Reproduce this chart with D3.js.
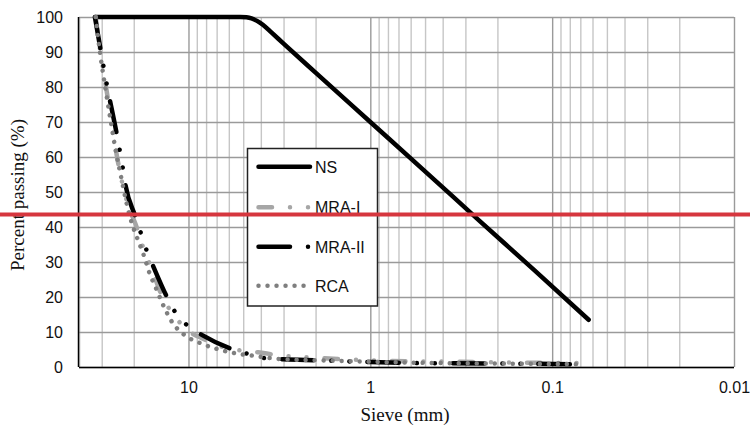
<!DOCTYPE html>
<html>
<head>
<meta charset="utf-8">
<script src="https://cdn.jsdelivr.net/npm/d3@7"></script>
<style>
  html, body { margin: 0; padding: 0; background: #fff; }
  svg { display: block; }
</style>
</head>
<body>
<svg id="chart" width="750" height="429"></svg>
<script>
// ---- data (sieve size in mm, percent passing) ----
const nsSize   = [32.4, 16, 8, 5.2, 4.8, 4.5, 4.2, 3.9, 3.5, 3, 2, 1, 0.5, 0.25, 0.125, 0.063];
const nsPass   = [100, 100, 100, 100, 99.9, 99.6, 98.9, 97.8, 95.6, 92.4, 84.1, 70.0, 55.9, 41.7, 27.6, 13.5];

const mra1Size = [32.4, 30.5, 28.4, 26.5, 24.7, 23.0, 21.4, 19.6, 17.7, 15.8, 13.9, 12.1, 10.1, 8.27, 6.26, 4.13, 3.01, 2.14, 1.13, 0.60, 0.32, 0.17, 0.070];
const mra1Pass = [100, 90, 80, 70, 60, 52, 46, 41, 34, 27.5, 20, 15, 10.5, 8, 5.5, 4.2, 3.2, 2.7, 2.0, 1.6, 1.5, 1.3, 1.1];

const mra2Size = [32.7, 30.5, 28.2, 24.9, 23.0, 22.2, 19.6, 18.2, 16.9, 15.6, 13.1, 11.8, 10.1, 8.4, 5.75, 4.67, 3.77, 3.01, 1.95, 1.0, 0.53, 0.22, 0.075];
const mra2Pass = [100, 91, 81, 67, 57, 52, 43, 38, 33, 28.7, 19.9, 15.6, 11.8, 9.1, 5.1, 3.7, 2.5, 2.2, 1.9, 1.4, 1.1, 1.0, 0.8];

const rcaSize  = [32.4, 30.7, 28.7, 26.6, 25.1, 23.4, 21.9, 20.6, 19.1, 17.6, 16.4, 15.0, 13.7, 12.3, 10.5, 8.59, 6.90, 5.52, 4.40, 3.01, 1.95, 1.0, 0.531, 0.219, 0.0676];
const rcaPass  = [100, 90, 80, 69.4, 61.7, 54, 46.8, 41.5, 36.7, 31.9, 26.9, 22.2, 17.4, 12.8, 9.1, 6.8, 5.1, 3.9, 3.2, 2.2, 1.9, 1.5, 1.2, 1.0, 0.8];

const seriesNames = ["NS", "MRA-I", "MRA-II", "RCA"];
const xTickValues = [10, 1, 0.1, 0.01];
const xTickLabels = ["10", "1", "0.1", "0.01"];
const yTickValues = [0, 10, 20, 30, 40, 50, 60, 70, 80, 90, 100];

// ---- styles ----
const W = 4.5;
const styles = {
  "NS":     { color: "#000000", dash: null },
  "MRA-I":  { color: "#a6a6a6", dash: "13.5,18,0.01,18,0.01,18" },
  "MRA-II": { color: "#000000", dash: "31.5,18,0.01,18,0.01,18" },
  "RCA":    { color: "#7f7f7f", dash: "0.01,9" }
};

const series = [
  { name: "NS",     pts: d3.zip(nsSize, nsPass) },
  { name: "MRA-I",  pts: d3.zip(mra1Size, mra1Pass) },
  { name: "MRA-II", pts: d3.zip(mra2Size, mra2Pass) },
  { name: "RCA",    pts: d3.zip(rcaSize, rcaPass) }
];

const svg = d3.select("#chart");
const L = 79, R = 734, T = 17, B = 367;

const x = d3.scaleLog().domain([40, 0.01]).range([L, R]);
const y = d3.scaleLinear().domain([0, 100]).range([B, T]);

// minor vertical gridlines
const minorVals = [];
[0.01, 0.1, 1, 10].forEach(d => { for (let k = 2; k <= 9; k++) { const v = k * d; if (v <= 40) minorVals.push(v); } });
minorVals.push(40);

const grid = svg.append("g");
grid.append("g").attr("transform", `translate(0,${B})`)
  .call(d3.axisBottom(x).tickValues(minorVals).tickSize(-(B - T)).tickFormat(""))
  .call(g => g.select(".domain").remove())
  .call(g => g.selectAll("line").attr("stroke", "#c6c6c6").attr("stroke-width", 1.4));
grid.append("g").attr("transform", `translate(0,${B})`)
  .call(d3.axisBottom(x).tickValues(xTickValues).tickSize(-(B - T)).tickFormat(""))
  .call(g => g.select(".domain").remove())
  .call(g => g.selectAll("line").attr("stroke", "#9a9a9a").attr("stroke-width", 1.4));
grid.append("g").attr("transform", `translate(${L},0)`)
  .call(d3.axisLeft(y).tickValues(yTickValues).tickSize(-(R - L)).tickFormat(""))
  .call(g => g.select(".domain").remove())
  .call(g => g.selectAll("line").attr("stroke", "#9a9a9a").attr("stroke-width", 1.4));

// axes lines and labels
svg.append("g").attr("transform", `translate(0,${B})`)
  .call(d3.axisBottom(x).tickValues(xTickValues).tickSize(0).tickPadding(15)
        .tickFormat((d, i) => xTickLabels[i]))
  .call(g => g.select(".domain").attr("stroke", "#000").attr("stroke-width", 1.5).attr("d", `M${L},0.5H${R}`))
  .call(g => g.selectAll("text").attr("font-family", "Liberation Sans, Arial, sans-serif")
        .attr("font-size", 16).attr("fill", "#111"));
svg.append("g").attr("transform", `translate(${L},0)`)
  .call(d3.axisLeft(y).tickValues(yTickValues).tickSize(0).tickPadding(16))
  .call(g => g.select(".domain").attr("stroke", "#000").attr("stroke-width", 1.5).attr("d", `M-0.5,${T}V${B}`))
  .call(g => g.selectAll("text").attr("font-family", "Liberation Sans, Arial, sans-serif")
        .attr("font-size", 16).attr("fill", "#111"));

// axis titles
svg.append("text").attr("x", 405).attr("y", 421)
  .attr("text-anchor", "middle").attr("font-family", "Liberation Serif, Times New Roman, serif")
  .attr("font-size", 19).attr("fill", "#111").text("Sieve (mm)");
svg.append("text").attr("transform", "translate(24,195) rotate(-90)")
  .attr("text-anchor", "middle").attr("font-family", "Liberation Serif, Times New Roman, serif")
  .attr("font-size", 19).attr("fill", "#111").text("Percent passing (%)");

// series lines
const line = d3.line().x(d => x(d[0])).y(d => y(d[1])).curve(d3.curveMonotoneX);
svg.append("g").selectAll("path").data(series).join("path")
  .attr("d", d => line(d.pts))
  .attr("fill", "none")
  .attr("stroke", d => styles[d.name].color)
  .attr("stroke-width", W)
  .attr("stroke-linecap", "round")
  .attr("stroke-linejoin", "round")
  .attr("stroke-dasharray", d => styles[d.name].dash);

// legend
const lg = svg.append("g");
lg.append("rect").attr("x", 247.5).attr("y", 148.5).attr("width", 130).attr("height", 157.5)
  .attr("fill", "#fff").attr("stroke", "#222").attr("stroke-width", 1.5);
const legY = [166.7, 207.3, 246.7, 285.7];
seriesNames.forEach((n, i) => {
  const g = lg.append("g");
  g.append("path").attr("d", d3.line()([[258.5, legY[i]], [310, legY[i]]]))
    .attr("fill", "none").attr("stroke", styles[n].color).attr("stroke-width", W)
    .attr("stroke-linecap", "round").attr("stroke-dasharray", styles[n].dash);
  g.append("text").attr("x", 315).attr("y", legY[i] + 6)
    .attr("font-family", "Liberation Sans, Arial, sans-serif").attr("font-size", 16)
    .attr("fill", "#111").text(n);
});

// red horizontal marker line (present in the reference image)
svg.append("line").attr("x1", 0).attr("x2", 750).attr("y1", 214.5).attr("y2", 214.5)
  .attr("stroke", "#d6363e").attr("stroke-width", 4);
</script>
</body>
</html>
